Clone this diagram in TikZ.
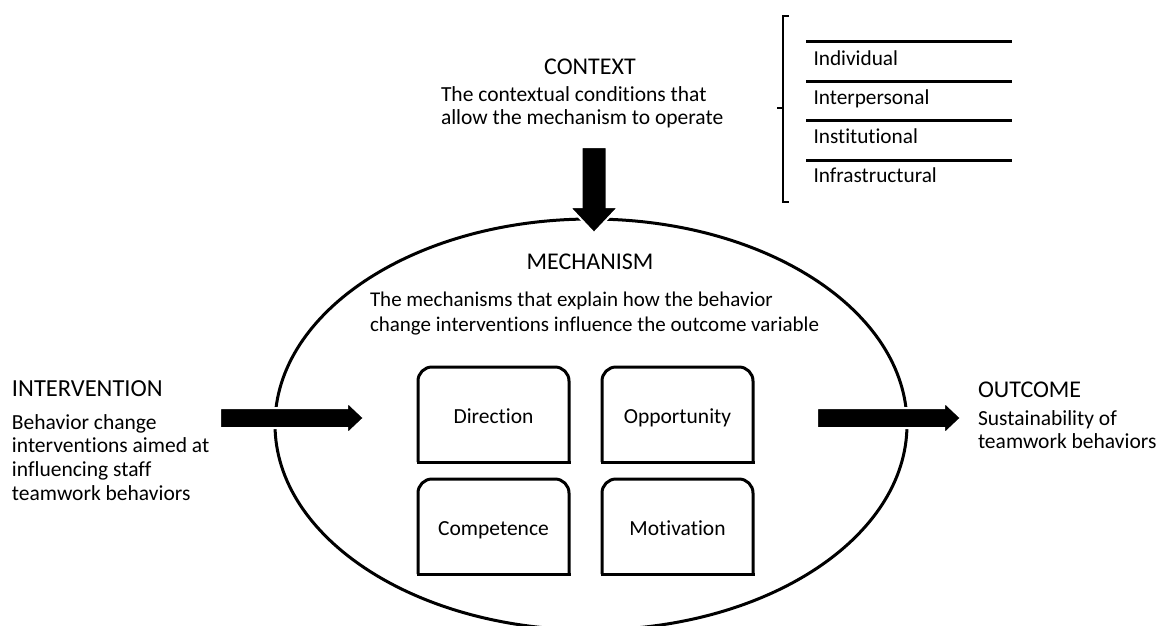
\documentclass[tikz,border=0pt]{standalone}
\usepackage{fontspec}
\setmainfont{Carlito}[Ligatures=NoCommon]
\usetikzlibrary{shapes.geometric}
\begin{document}
\begin{tikzpicture}[x=1pt,y=-1pt,
  every node/.style={inner sep=0pt, outer sep=0pt},
  head/.style={font=\fontsize{24}{26}\selectfont},
  body/.style={font=\fontsize{21.5}{23.6}\selectfont, align=left},
  outl/.style={line width=3pt},
  blk/.style={fill=black, draw=white, line width=2pt},
  box/.style={minimum width=151pt, minimum height=95pt, text height=21pt, text depth=4pt, font=\fontsize{21.5}{23}\selectfont},
  lvl/.style={font=\fontsize{21.3}{23}\selectfont, anchor=base west},
  lvlline/.style={line width=3pt},
  brace/.style={line width=1.2pt},
]
\useasboundingbox (0,0) rectangle (1157,625);
% mechanism ellipse
\node[ellipse, draw, outl, minimum width=632pt, minimum height=411pt] (mech) at (591,424.5) {};
% inner boxes
\foreach \nm/\cx/\cy/\txt in {dir/493.5/414.5/Direction, opp/677.5/414.5/Opportunity, comp/493.5/526.5/Competence, mot/677.5/526.5/Motivation}{
  \node[box] (\nm) at (\cx,\cy) {\txt};
  \draw[outl, rounded corners=14pt] (\nm.south west) -- (\nm.north west) -- (\nm.north east) -- (\nm.south east);
  \draw[outl, line cap=rect] (\nm.south west) -- (\nm.south east);
}
% texts (anchor base = baseline of the last line)
\node[head, anchor=base] (ctxh) at (590,74) {CONTEXT};
\node[body, anchor=base west] (ctxt) at (441,124.6) {The contextual conditions that\\allow the mechanism to operate};
\node[head, anchor=base] (mechh) at (590,269) {MECHANISM};
\node[body, anchor=base west, font=\fontsize{21}{25}\selectfont] (mecht) at (370,331.7) {The mechanisms that explain how the behavior\\change interventions influence the outcome variable};
\node[head, anchor=base west, font=\fontsize{24.5}{26}\selectfont] (inth) at (12,396) {INTERVENTION};
\node[body, anchor=base west] (intt) at (12,500) {Behavior change\\interventions aimed at\\influencing staff\\teamwork behaviors};
\node[head, anchor=base west] (outh) at (978,397) {OUTCOME};
\node[body, anchor=base west, font=\fontsize{21.5}{23}\selectfont] (outt) at (978,448) {Sustainability of\\teamwork behaviors};
% block arrows
\coordinate (ia) at (220,418);
\coordinate (oa) at (817,418);
\coordinate (ca) at (594,147);
\draw[blk] (ia) ++(0,-10) -- ++(127,0) -- ++(0,-6) -- ++(17,16) -- ++(-17,16) -- ++(0,-6) -- ++(-127,0) -- cycle;
\draw[blk] (oa) ++(0,-10) -- ++(127,0) -- ++(0,-6) -- ++(17,16) -- ++(-17,16) -- ++(0,-6) -- ++(-127,0) -- cycle;
\draw[blk] (ca) ++(-12.5,0) -- ++(25,0) -- ++(0,60) -- ++(12,0) -- ++(-24.5,26) -- ++(-24.5,-26) -- ++(12,0) -- cycle;
% levels
\foreach \yy in {41.7,81,120,160}{ \draw[lvlline] (806,\yy) -- (1012,\yy); }
\node[lvl] (l1) at (813.5,65) {Individual};
\node[lvl] (l2) at (813.5,104) {Interpersonal};
\node[lvl] (l3) at (813.5,143) {Institutional};
\node[lvl] (l4) at (813.5,182) {Infrastructural};
% bracket
\coordinate (bt) at (783,16);
\coordinate (bb) at (783,202);
\coordinate (bm) at (783,108);
\draw[brace] ([xshift=6pt]bt) -- (bt) -- (bb) -- ([xshift=6pt]bb);
\draw[brace] (bm) -- ([xshift=-6pt]bm);
\end{tikzpicture}
\end{document}
